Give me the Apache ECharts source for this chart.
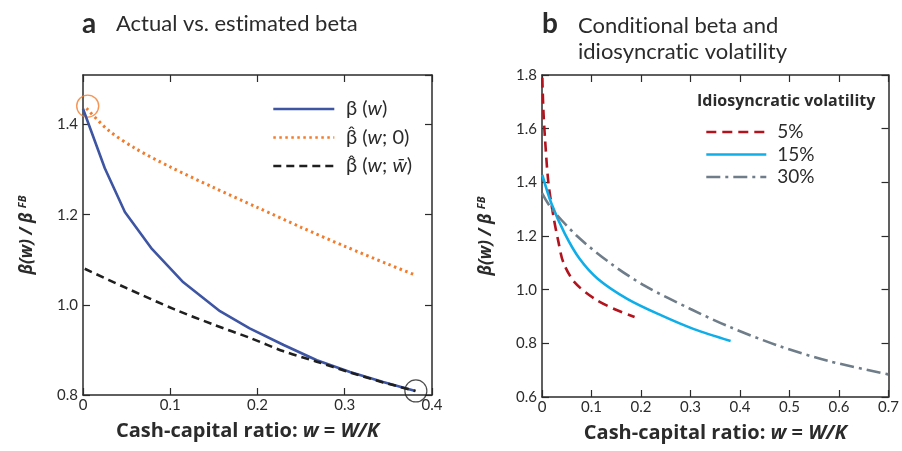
<!DOCTYPE html>
<html>
<head>
<meta charset="utf-8">
<script src="https://cdn.jsdelivr.net/npm/echarts@6/dist/echarts.min.js"></script>
<style>
  html, body { margin: 0; padding: 0; background: #fff; }
  #main { width: 902px; height: 451px; }
</style>
</head>
<body>
<div id="main"></div>
<script type="text/javascript">
// panel a: actual vs estimated beta
var wActual = [0, 0.025, 0.048, 0.079, 0.115, 0.157, 0.191, 0.23, 0.268, 0.306, 0.344, 0.381];
var betaActual = [1.435, 1.303, 1.206, 1.124, 1.050, 0.986, 0.948, 0.911, 0.877, 0.851, 0.829, 0.809];
var wZero = [0.004, 0.03, 0.06, 0.1, 0.15, 0.2, 0.25, 0.3, 0.35, 0.381];
var betaZero = [1.436, 1.386, 1.347, 1.306, 1.260, 1.216, 1.172, 1.130, 1.090, 1.066];
var wBar = [0.002, 0.05, 0.105, 0.15, 0.191, 0.23, 0.268, 0.306, 0.344, 0.381];
var betaBar = [1.080, 1.037, 0.990, 0.956, 0.927, 0.897, 0.874, 0.850, 0.828, 0.809];
var circleOrange = [[0.0054, 1.441]];
var circleBlack = [[0.3815, 0.809]];

// panel b: conditional beta by idiosyncratic volatility
var w5 = [0.0006, 0.003, 0.006, 0.0127, 0.0227, 0.033, 0.043, 0.066, 0.107, 0.147, 0.187];
var beta5 = [1.79, 1.66, 1.565, 1.403, 1.277, 1.18, 1.102, 1.027, 0.965, 0.927, 0.898];
var w15 = [0.0006, 0.019, 0.046, 0.076, 0.113, 0.173, 0.24, 0.307, 0.381];
var beta15 = [1.428, 1.321, 1.209, 1.115, 1.040, 0.965, 0.905, 0.853, 0.809];
var w30 = [0, 0.019, 0.073, 0.14, 0.207, 0.3, 0.378, 0.479, 0.579, 0.7];
var beta30 = [1.36, 1.303, 1.196, 1.096, 1.015, 0.928, 0.862, 0.79, 0.734, 0.684];

var xTicksA = [0, 0.4, 0.1];
var yTicksA = [0.8, 1.51, 0.2];
var xTicksB = [0, 0.7, 0.1];
var yTicksB = [0.6, 1.8, 0.2];

var FONT = 'Lato';
var BOLDFONT = 'Open Sans';
var INK = '#2b2b2b';

function pair(xs, ys) {
  return xs.map(function (x, i) { return [x, ys[i]]; });
}

function xAx(grid, t, bottom, shift) {
  return {
    type: 'value', gridIndex: grid, min: t[0], max: t[1], interval: t[2],
    position: bottom ? 'bottom' : 'top',
    axisLine: { show: true, onZero: false, lineStyle: { color: INK, width: 1.5 } },
    axisTick: { show: true, inside: true, length: 7, lineStyle: { color: INK, width: 1.2 } },
    axisLabel: {
      show: bottom, margin: 3, fontFamily: FONT, fontSize: 15, color: INK,
      formatter: function (v) { return v === 0 ? '0' : v.toFixed(1); }
    },
    splitLine: { show: false },
    name: bottom ? '{b|Cash-capital ratio: }{i|w}{b| = }{i|W/K}' : '',
    nameLocation: 'middle', nameGap: 26,
    nameTextStyle: {
      padding: [0, shift || 0, 0, 0],
      rich: {
        b: { fontFamily: BOLDFONT, fontWeight: 'bold', fontSize: 20, color: INK },
        i: { fontFamily: BOLDFONT, fontWeight: 'bold', fontStyle: 'italic', fontSize: 20, color: INK }
      }
    }
  };
}

function yAx(grid, t, left) {
  return {
    type: 'value', gridIndex: grid, min: t[0], max: t[1], interval: t[2],
    position: left ? 'left' : 'right',
    axisLine: { show: true, onZero: false, lineStyle: { color: INK, width: 1.5 } },
    axisTick: { show: true, inside: true, length: 7, lineStyle: { color: INK, width: 1.2 } },
    axisLabel: {
      show: left, margin: 5, fontFamily: FONT, fontSize: 15, color: INK, showMaxLabel: t[1] === 1.8,
      formatter: function (v) { return v.toFixed(1); }
    },
    splitLine: { show: false },
    name: left ? '{b|\u03b2(w) / \u03b2 }{s|FB}' : '',
    nameLocation: 'middle', nameGap: 46, nameRotate: 90,
    nameTextStyle: {
      rich: {
        b: { fontFamily: BOLDFONT, fontWeight: 'bold', fontStyle: 'italic', fontSize: 17, color: INK },
        s: { fontFamily: BOLDFONT, fontWeight: 'bold', fontStyle: 'italic', fontSize: 11, color: INK, verticalAlign: 'top', padding: [0, 0, 9, 0] }
      }
    }
  };
}

var myChart = echarts.init(document.getElementById('main'), null, { renderer: 'canvas' });

var legendRich = {
  n: { fontFamily: FONT, fontSize: 20, lineHeight: 20, color: INK },
  i: { fontFamily: FONT, fontSize: 20, lineHeight: 20, fontStyle: 'italic', color: INK }
};

option = {
  animation: false,
  backgroundColor: '#fff',
  title: [
    { text: 'a', left: 77, top: 5, textStyle: { fontFamily: FONT, fontWeight: 'bold', fontSize: 28, color: INK } },
    { text: 'Actual vs. est\u200cimated beta', left: 111, top: 8, textStyle: { fontFamily: FONT, fontWeight: 'normal', fontSize: 22, color: INK } },
    { text: 'b', left: 537, top: 5, textStyle: { fontFamily: FONT, fontWeight: 'bold', fontSize: 28, color: INK } },
    { text: 'Condit\u200cional beta and\nidiosyncrat\u200cic volat\u200cilit\u200cy', left: 573, top: 8,
      textStyle: { fontFamily: FONT, fontWeight: 'normal', fontSize: 22, lineHeight: 26, color: INK } },
    { text: 'Idiosyncratic volatility', left: 692, top: 88,
      textStyle: { fontFamily: BOLDFONT, fontWeight: 'bold', fontSize: 16, color: INK } }
  ],
  grid: [
    { left: 83, right: 470, top: 75, bottom: 56 },
    { left: 542, right: 12, top: 75, bottom: 54 }
  ],
  xAxis: [xAx(0, xTicksA, true, 20), xAx(0, xTicksA, false), xAx(1, xTicksB, true, 0), xAx(1, xTicksB, false)],
  yAxis: [yAx(0, yTicksA, true), yAx(0, yTicksA, false), yAx(1, yTicksB, true), yAx(1, yTicksB, false)],
  legend: [
    {
      orient: 'vertical', left: 267, top: 94, itemWidth: 61, itemHeight: 14, itemGap: 8.5,
      itemStyle: { opacity: 0 },
      lineStyle: { width: 2.6 },
      data: ['a1', 'a2', 'a3'],
      formatter: function (name) {
        return { a1: '  {n|\u03b2 (}{i|w}{n|)}', a2: '  {n|\u03b2\u0302 (}{i|w}{n|; 0)}', a3: '  {n|\u03b2\u0302 (}{i|w}{n|; }{i|w\u0304}{n|)}' }[name];
      },
      textStyle: { rich: legendRich }
    },
    {
      orient: 'vertical', left: 700, top: 117, itemWidth: 60, itemHeight: 12, itemGap: 2.5,
      itemStyle: { opacity: 0 },
      lineStyle: { width: 2.6 },
      data: ['5%', '15%', '30%'],
      textStyle: { fontFamily: FONT, fontSize: 19, lineHeight: 20, color: INK, padding: [0, 0, 0, 6] }
    }
  ],
  series: [
    { name: 'a1', type: 'line', xAxisIndex: 0, yAxisIndex: 0, data: pair(wActual, betaActual), symbol: 'none', smooth: false,
      lineStyle: { color: '#3d55a3', width: 2.6 }, itemStyle: { color: '#3d55a3' } },
    { name: 'a2', type: 'line', xAxisIndex: 0, yAxisIndex: 0, data: pair(wZero, betaZero), symbol: 'none', smooth: 0.3,
      lineStyle: { color: '#f47b2a', width: 3, type: [2.5, 3.5] }, itemStyle: { color: '#f47b2a' } },
    { name: 'a3', type: 'line', xAxisIndex: 0, yAxisIndex: 0, data: pair(wBar, betaBar), symbol: 'none', smooth: 0.3,
      lineStyle: { color: '#1f1f1f', width: 2.6, type: [8, 5] }, itemStyle: { color: '#1f1f1f' } },
    { type: 'scatter', xAxisIndex: 0, yAxisIndex: 0, data: circleOrange, symbol: 'circle', symbolSize: 22, silent: true,
      itemStyle: { color: 'rgba(0,0,0,0)', borderColor: '#f47b2a', borderWidth: 1.4 } },
    { type: 'scatter', xAxisIndex: 0, yAxisIndex: 0, data: circleBlack, symbol: 'circle', symbolSize: 22, silent: true,
      itemStyle: { color: 'rgba(0,0,0,0)', borderColor: '#1f1f1f', borderWidth: 1.2 } },
    { name: '5%', type: 'line', xAxisIndex: 2, yAxisIndex: 2, data: pair(w5, beta5), symbol: 'none', smooth: 0.3,
      lineStyle: { color: '#b3131d', width: 2.6, type: [10, 6] }, itemStyle: { color: '#b3131d' } },
    { name: '15%', type: 'line', xAxisIndex: 2, yAxisIndex: 2, data: pair(w15, beta15), symbol: 'none', smooth: 0.3,
      lineStyle: { color: '#10aee8', width: 2.6 }, itemStyle: { color: '#10aee8' } },
    { name: '30%', type: 'line', xAxisIndex: 2, yAxisIndex: 2, data: pair(w30, beta30), symbol: 'none', smooth: 0.3,
      lineStyle: { color: '#6e7d89', width: 2.6, type: [14, 5, 3, 5] }, itemStyle: { color: '#6e7d89' } }
  ]
};

myChart.setOption(option);
</script>
</body>
</html>
